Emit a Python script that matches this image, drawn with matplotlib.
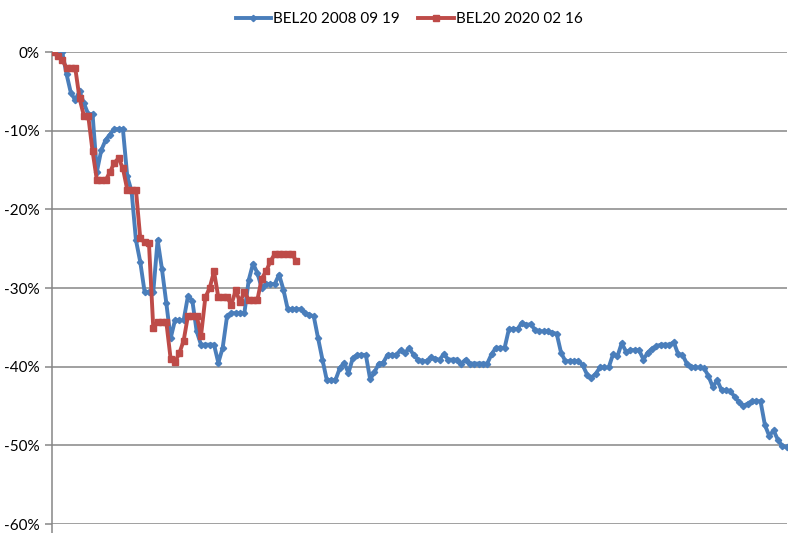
import numpy as np
import matplotlib
matplotlib.use("Agg")
import matplotlib.pyplot as plt
from matplotlib.ticker import FuncFormatter

plt.rcParams['font.family'] = ['Lato', 'DejaVu Sans']

# drawdown since start, in %
bel20_2008 = [
    0, 0, 0, -2.8, -5.2, -6.1, -5.0, -6.5, -7.9, -7.9,
    -15.2, -12.5, -11.2, -10.5, -9.8, -9.8, -9.8, -15.8, -17.7, -23.9,
    -26.7, -30.5, -30.5, -30.5, -23.9, -27.6, -31.9, -36.4, -34.1, -34.1,
    -34.1, -31.0, -31.6, -35.5, -37.2, -37.2, -37.2, -37.2, -39.5, -37.6,
    -33.6, -33.2, -33.2, -33.2, -33.2, -29.0, -26.9, -28.1, -30.0, -29.5,
    -29.5, -29.5, -28.3, -30.2, -32.7, -32.7, -32.7, -32.7, -33.2, -33.4,
    -33.6, -36.4, -39.1, -41.7, -41.7, -41.7, -40.2, -39.5, -40.8, -38.9,
    -38.5, -38.5, -38.5, -41.6, -40.7, -39.6, -39.5, -38.5, -38.5, -38.5,
    -37.9, -38.3, -37.6, -38.5, -39.1, -39.3, -39.3, -38.8, -39.0, -39.1,
    -38.4, -39.1, -39.1, -39.1, -39.6, -39.1, -39.6, -39.6, -39.6, -39.6,
    -39.6, -38.4, -37.6, -37.6, -37.6, -35.2, -35.2, -35.2, -34.4, -34.7,
    -34.6, -35.3, -35.5, -35.5, -35.5, -35.7, -35.8, -38.2, -39.3, -39.3,
    -39.3, -39.3, -39.8, -41.0, -41.4, -40.9, -40.1, -40.1, -40.1, -38.4,
    -38.7, -37.0, -38.1, -37.9, -37.9, -37.9, -39.1, -38.2, -37.7, -37.4,
    -37.2, -37.2, -37.2, -36.9, -38.4, -38.5, -39.6, -40.0, -40.1, -40.1,
    -40.2, -41.2, -42.6, -41.7, -43.0, -43.0, -43.1, -43.8, -44.5, -45.0,
    -44.7, -44.4, -44.4, -44.4, -47.4, -48.8, -48.1, -49.3, -50.1, -50.2,
]

bel20_2020 = [
    0, -0.5, -1.0, -2.0, -2.0, -2.0, -5.9, -8.1, -8.1, -12.6,
    -16.3, -16.3, -16.3, -15.3, -14.1, -13.5, -14.8, -17.5, -17.5, -17.5,
    -23.7, -24.2, -24.3, -35.1, -34.3, -34.3, -34.3, -39.0, -39.4, -38.3,
    -36.7, -33.5, -33.5, -33.5, -36.1, -31.2, -30.0, -27.9, -31.2, -31.2,
    -31.2, -32.1, -30.3, -31.8, -30.5, -31.5, -31.5, -31.5, -28.8, -27.9,
    -26.6, -25.7, -25.7, -25.7, -25.7, -25.7, -26.6,
]

labels = ['BEL20 2008 09 19', 'BEL20 2020 02 16']
yticks = [0, -10, -20, -30, -40, -50, -60]

fig = plt.figure(figsize=(8.01, 5.33), dpi=100)
ax = fig.add_axes([52 / 801, 1 - 524 / 533, 735 / 801, 472 / 533])

ax.plot(np.arange(len(bel20_2008)), bel20_2008, color='#4A7EBB', lw=2.8,
        marker='D', markersize=3.2, label=labels[0], zorder=3)
ax.plot(np.arange(len(bel20_2020)), bel20_2020, color='#BE4B48', lw=2.8,
        marker='s', markersize=5, label=labels[1], zorder=4)

ax.set_xlim(-0.35, 169.1)
ax.set_ylim(-60, 0)
ax.set_yticks(yticks)
ax.yaxis.set_major_formatter(FuncFormatter(lambda v, p: f'{v:.0f}%'))
ax.set_xticks([])
ax.grid(axis='y', color='#868686', lw=1.1)
ax.set_axisbelow(True)
ax.tick_params(axis='y', length=5, width=1.1, color='#868686',
               labelsize=11, pad=4)
for s in ['top', 'right', 'bottom']:
    ax.spines[s].set_visible(False)
ax.spines['left'].set_color('#868686')
ax.spines['left'].set_linewidth(1.1)
ax.spines['left'].set_bounds(-61.2, 0)

ax.legend(loc='upper center', bbox_to_anchor=(0.486, 1.113), ncol=2,
          frameon=False, fontsize=11, handlelength=2.3, columnspacing=1.2,
          handletextpad=0.15)

fig.savefig('out.png', dpi=100)
